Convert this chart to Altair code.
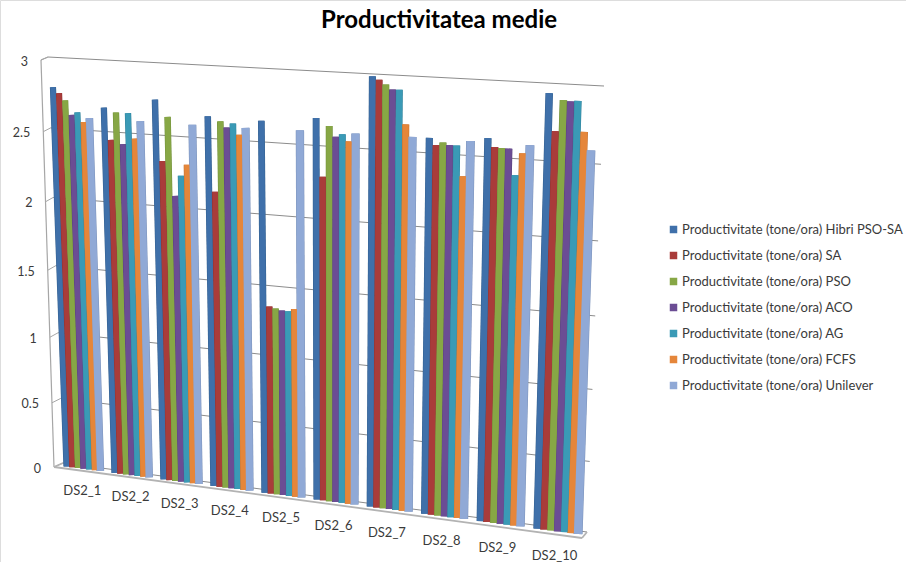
import altair as alt
import numpy as np
import pandas as pd

# Chart values
datasets = ["DS2_1", "DS2_2", "DS2_3", "DS2_4", "DS2_5", "DS2_6", "DS2_7", "DS2_8", "DS2_9", "DS2_10"]
hibrid = [2.81, 2.685, 2.76, 2.665, 2.655, 2.695, 2.99, 2.605, 2.625, 2.935]
sa = [2.77, 2.46, 2.335, 2.145, 1.365, 2.30, 2.97, 2.56, 2.57, 2.695]
pso = [2.72, 2.655, 2.645, 2.635, 1.355, 2.645, 2.94, 2.58, 2.565, 2.895]
aco = [2.62, 2.435, 2.095, 2.595, 1.345, 2.575, 2.91, 2.565, 2.565, 2.89]
ag = [2.64, 2.655, 2.24, 2.625, 1.345, 2.595, 2.91, 2.565, 2.395, 2.895]
fcfs = [2.575, 2.48, 2.32, 2.55, 1.365, 2.55, 2.685, 2.365, 2.54, 2.70]
unilever = [2.605, 2.605, 2.60, 2.60, 2.605, 2.605, 2.605, 2.60, 2.595, 2.585]

prefix = "Productivitate (tone/ora) "
series_names = [prefix + n for n in ["Hibri PSO-SA", "SA", "PSO", "ACO", "AG", "FCFS", "Unilever"]]
series_values = [hibrid, sa, pso, aco, ag, fcfs, unilever]
series_colors = ["#3f70aa", "#a93c3a", "#87a745", "#6b4d94", "#3a9ab6", "#e5863a", "#90a9d6"]
edge_colors = ["#34608f", "#8c3130", "#71903a", "#58407b", "#30819a", "#c17231", "#7c93bb"]
value_ticks = [0, 0.5, 1, 1.5, 2, 2.5, 3]
tick_labels = ["0", "0.5", "1", "1.5", "2", "2.5", "3"]
V_MAX = 3.0


def homography(p00, p10, p01, p11):
    """Perspective map from the unit square to a quadrilateral."""
    rows, rhs = [], []
    for (s, t), (x, y) in zip([(0, 0), (1, 0), (0, 1), (1, 1)], [p00, p10, p01, p11]):
        rows.append([s, t, 1, 0, 0, 0, -s * x, -t * x])
        rows.append([0, 0, 0, s, t, 1, -s * y, -t * y])
        rhs += [x, y]
    a = np.linalg.solve(np.array(rows, float), np.array(rhs, float))

    def project(s, t):
        w = a[6] * s + a[7] * t + 1
        return (a[0] * s + a[1] * t + a[2]) / w, (a[3] * s + a[4] * t + a[5]) / w

    return project


# Perspective planes of the 3D scene: bars, back wall, front face holding the value axis
bar_plane = homography((66.5, 466.5), (578, 534), (52, 60), (593, 85))
wall_plane = homography((63, 463), (587, 532), (48, 57), (604, 86))
axis_bottom, axis_top = (54, 467), (41, 60)
front_plane = homography(axis_bottom, (582, 538), axis_top, (608, 88))

GROUP_STEP = 8.5
SLOTS = (len(datasets) - 1) * GROUP_STEP + 6

bars = []
for i, name in enumerate(datasets):
    for j, (label, vals) in enumerate(zip(series_names, series_values)):
        s = (i * GROUP_STEP + j) / SLOTS
        t = vals[i] / V_MAX
        x0, y0 = bar_plane(s, 0)
        x1, y1 = bar_plane(s, t)
        xa, _ = bar_plane(s, 1)
        xb, _ = bar_plane(s + 1 / SLOTS, 1)
        width = abs(xb - xa) * 1.05 + (1.5 if j == 6 else 0)
        bars.append({
            "dataset": name, "series": label, "edge": edge_colors[j], "order": i * 10 + j,
            "x": x0, "y": y0, "x2": x1, "y2": y1,
            "w": width, "inner": max(width - 1.0, 1),
        })
bars = pd.DataFrame(bars)

grid = []
for v, lab in zip(value_ticks, tick_labels):
    t = v / V_MAX
    xl, yl = wall_plane(0, t)
    xr, yr = wall_plane(1, t)
    ax, ay = front_plane(0, t)
    grid.append({"x": xl, "y": yl, "x2": xr, "y2": yr, "ax": ax, "ay": ay,
                 "lx": ax - 13, "ly": ay + 1.5, "label": lab})
grid = pd.DataFrame(grid)

floor_edges = pd.DataFrame([
    {"x": 54, "y": 467, "x2": 582, "y2": 538},
    {"x": 582, "y": 538, "x2": 587, "y2": 532},
    {"x": 54, "y": 467, "x2": 63, "y2": 463},
])
axis_edge = pd.DataFrame([{"x": axis_bottom[0], "y": axis_bottom[1], "x2": axis_top[0], "y2": axis_top[1]},
                          {"x": axis_top[0], "y": axis_top[1], "x2": 48, "y2": 57}])

cat_labels = []
for i, name in enumerate(datasets):
    gx, gy = bar_plane((i * GROUP_STEP + 3) / SLOTS, 0)
    cat_labels.append({"x": gx - 1 - 2 * i / 9, "y": gy + 22 + 3 * i / 9, "label": name})
cat_labels = pd.DataFrame(cat_labels)

X = lambda f="x": alt.X(f"{f}:Q", scale=alt.Scale(domain=[0, 906]), axis=None)
Y = lambda f="y": alt.Y(f"{f}:Q", scale=alt.Scale(domain=[562, 0]), axis=None)
FONT = "Lato"
TEXT = "#3a3a3a"

grid_lines = alt.Chart(grid).mark_rule(color="#8c8c8c", strokeWidth=1).encode(
    x=X(), y=Y(), x2="x2:Q", y2="y2:Q")
ticks = alt.Chart(grid).mark_rule(color="#a6a6a6", strokeWidth=1).encode(
    x=X("ax"), y=Y("ay"), x2="x:Q", y2="y:Q")
axis_line = alt.Chart(axis_edge).mark_rule(color="#a6a6a6", strokeWidth=1.2).encode(
    x=X(), y=Y(), x2="x2:Q", y2="y2:Q")
floor = alt.Chart(floor_edges).mark_rule(color="#b3b3b3", strokeWidth=1.8).encode(
    x=X(), y=Y(), x2="x2:Q", y2="y2:Q")

bar_edges = alt.Chart(bars).mark_rule(strokeCap="butt").encode(
    x=X(), y=Y(), x2="x2:Q", y2="y2:Q",
    stroke=alt.Stroke("edge:N", scale=None),
    size=alt.Size("w:Q", scale=None),
    order="order:Q",
)
bar_faces = alt.Chart(bars).mark_rule(strokeCap="butt").encode(
    x=X(), y=Y(), x2="x2:Q", y2=alt.Y2("y2:Q"),
    color=alt.Color(
        "series:N",
        sort=series_names,
        scale=alt.Scale(domain=series_names, range=series_colors),
        legend=alt.Legend(
            title=None, orient="none", legendX=667, legendY=223,
            symbolType="square", symbolSize=9, symbolStrokeWidth=4.5,
            labelFont=FONT, labelFontSize=13, labelColor=TEXT, labelLimit=300,
            labelOffset=2, rowPadding=5,
        ),
    ),
    size=alt.Size("inner:Q", scale=None),
    order="order:Q",
)

value_labels = alt.Chart(grid).mark_text(
    align="right", baseline="middle", font=FONT, fontSize=12.5, color=TEXT
).encode(x=X("lx"), y=Y("ly"), text="label:N")
category_labels = alt.Chart(cat_labels).mark_text(
    align="center", baseline="middle", font=FONT, fontSize=13, color=TEXT
).encode(x=X(), y=Y(), text="label:N")

chart = alt.layer(
    grid_lines, ticks, axis_line, floor, bar_edges, bar_faces, value_labels, category_labels
).resolve_scale(
    size="independent"
).properties(
    width=906, height=562, padding=0, autosize="none",
    title=alt.TitleParams(
        "Productivitatea medie", font=FONT, fontSize=24, fontWeight="bold", color="#000000",
        anchor="start", frame="group", dx=321, dy=37,
    ),
).configure_view(stroke=None).configure(background="white")

chart.save("out.html", embed_options={"renderer": "svg", "actions": False})
